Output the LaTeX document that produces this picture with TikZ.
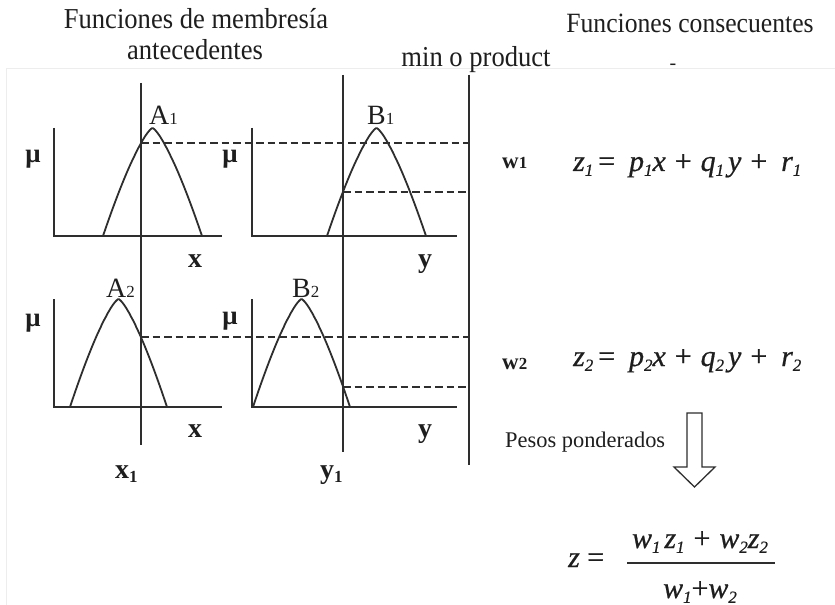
\documentclass[tikz,border=0pt]{standalone}
\usepackage{fontspec}
\setmainfont{Liberation Serif}
\newfontfamily\condfont[FakeStretch=0.92]{Liberation Serif}
\newfontfamily\eqfont[FakeBold=0.6]{Liberation Serif}
\usetikzlibrary{intersections}
\definecolor{ink}{HTML}{2E2E2E}
\definecolor{txt}{HTML}{1E1E1E}
\definecolor{faintline}{HTML}{EDEDED}
\newcommand\isub[1]{\raisebox{-0.35ex}{\fontsize{17}{17}\selectfont #1}}
\newcommand\lsub[1]{{\fontsize{17}{17}\selectfont #1}}
\newcommand\pl{\hspace{9bp}{\upshape+}\hspace{9bp}}
\begin{document}
\begin{tikzpicture}[x=1bp,y=-1bp,
  axis/.style={draw=ink, line width=1.9bp},
  mcurve/.style={draw=ink, line width=1.8bp},
  vline/.style={draw=ink, line width=1.9bp},
  dashline/.style={draw=ink, line width=2bp, dash pattern=on 7.5bp off 4bp},
  title/.style={font=\condfont\fontsize{29}{29}\selectfont, text=txt, inner sep=0, anchor=base},
  lbl/.style={font=\bfseries\fontsize{27}{27}\selectfont, text=txt, inner sep=0, anchor=base},
  sublbl/.style={font=\fontsize{28}{28}\selectfont, text=txt, inner sep=0, anchor=base west},
  bl/.style={font=\bfseries\fontsize{28}{28}\selectfont, text=txt, inner sep=0, anchor=base},
  wl/.style={font=\bfseries\fontsize{23}{23}\selectfont, text=txt, inner sep=0, anchor=base west},
  eq/.style={font=\eqfont\itshape\fontsize{30}{30}\selectfont, text=txt, inner sep=0, anchor=base west},
  eqc/.style={font=\eqfont\itshape\fontsize{30}{30}\selectfont, text=txt, inner sep=0, anchor=base},
]
\useasboundingbox (0,0) rectangle (835,605);
\fill[white] (0,0) rectangle (835,605);
% faint frame of the embedded figure
\coordinate (fb) at (6,605);
\coordinate (fc) at (6,69);
\coordinate (fr) at (835,69);
\draw[faintline, line width=1bp] (fb) -- (fc) -- (fr);

% titles
\node[title] (t1) at (196,29) {Funciones de membresía};
\node[title] (t2) at (195,60) {antecedentes};
\node[title] (t3) at (476,67) {min o product};
\node[title, font=\condfont\fontsize{28}{28}\selectfont] (t4) at (690,33) {Funciones consecuentes};
\node[title, font=\fontsize{20}{20}\selectfont] (dash) at (673,70) {-};

% axes
\coordinate (tA1) at (54,128); \coordinate (oA1) at (54,236); \coordinate (eA1) at (222,236);
\coordinate (tB1) at (252,128); \coordinate (oB1) at (252,236); \coordinate (eB1) at (457,236);
\coordinate (tA2) at (54,299); \coordinate (oA2) at (54,407); \coordinate (eA2) at (222,407);
\coordinate (tB2) at (252,299); \coordinate (oB2) at (252,407); \coordinate (eB2) at (457,407);
\draw[axis] (tA1) -- (oA1) -- (eA1);
\draw[axis] (tB1) -- (oB1) -- (eB1);
\draw[axis] (tA2) -- (oA2) -- (eA2);
\draw[axis] (tB2) -- (oB2) -- (eB2);

% membership curves
\draw[mcurve, name path=cA1] plot[domain=103:202, samples=90, smooth]
  (\x, {236-108*(1-((\x-152.5)*(\x-152.5)/2450.25+0.00001)^0.675)});
\draw[mcurve, name path=cB1] plot[domain=327:426, samples=90, smooth]
  (\x, {236-108*(1-((\x-376.5)*(\x-376.5)/2450.25+0.00001)^0.675)});
\draw[mcurve, name path=cA2] plot[domain=70:167, samples=90, smooth]
  (\x, {407-108*(1-((\x-118.5)*(\x-118.5)/2352.25+0.00001)^0.675)});
\draw[mcurve, name path=cB2] plot[domain=253:350, samples=90, smooth]
  (\x, {407-108*(1-((\x-301.5)*(\x-301.5)/2352.25+0.00001)^0.675)});

% vertical input lines
\coordinate (x1t) at (141,83);  \coordinate (x1b) at (141,445);
\coordinate (y1t) at (343,75);  \coordinate (y1b) at (343,452);
\coordinate (rt) at (469,75);   \coordinate (rb) at (469,465);
\draw[vline, name path=vx] (x1t) -- (x1b);
\draw[vline, name path=vy] (y1t) -- (y1b);
\draw[vline] (rt) -- (rb);

% dashed membership degrees
\path[name intersections={of=cA1 and vx, by=iA1}];
\path[name intersections={of=cB1 and vy, by=iB1}];
\path[name intersections={of=cA2 and vx, by=iA2}];
\path[name intersections={of=cB2 and vy, by=iB2}];
\draw[dashline] (iA1) -- (iA1 -| rt);
\draw[dashline] (iB1) -- (iB1 -| rt);
\draw[dashline] (iA2) -- (iA2 -| rt);
\draw[dashline] (iB2) -- (iB2 -| rt);

% labels
\node[lbl] (mu1) at (33,163) {μ};
\node[lbl] (mu2) at (230,163) {μ};
\node[lbl] (mu3) at (33,326) {μ};
\node[lbl] (mu4) at (230,324) {μ};
\node[sublbl] (A1) at (149,125) {A\lsub{1}};
\node[sublbl] (B1) at (367,125) {B\lsub{1}};
\node[sublbl] (A2) at (106,297) {A\lsub{2}};
\node[sublbl] (B2) at (292,297) {B\lsub{2}};
\node[bl] (xa) at (195,267) {x};
\node[bl] (ya) at (425,267) {y};
\node[bl] (xb) at (195,437) {x};
\node[bl] (yb) at (425,437) {y};
\node[bl, anchor=base west] (x1) at (115,478) {x\isub{1}};
\node[bl, anchor=base west] (y1) at (320,478) {y\isub{1}};

% consequent functions
\node[wl] (w1) at (502,169) {w\lsub{1}};
\node[wl] (w2) at (502,369) {w\lsub{2}};
\node[eq] (z1) at (573,171) {z\isub{1}\,{\upshape=}\hspace{14bp}p\isub{1}x\pl q\isub{1}\hspace{4bp}y\pl\hspace{5bp}r\isub{1}};
\node[eq] (z2) at (573,366) {z\isub{2}\,{\upshape=}\hspace{14bp}p\isub{2}x\pl q\isub{2}\hspace{4bp}y\pl\hspace{5bp}r\isub{2}};

% weighted average
\node[title, font=\fontsize{22.5}{22.5}\selectfont, anchor=base west] (pp) at (505,447) {Pesos ponderados};
\draw[ink, line width=1.3bp] (687,413) -- (702,413) -- (702,467) -- (715,467) -- (694.5,487) -- (674,467) -- (687,467) -- cycle;

\node[eq] (zz) at (568,567) {z {\upshape=}};
\node[eqc] (num) at (700,548) {w\isub{1}\hspace{4bp}z\isub{1}\pl w\isub{2}z\isub{2}};
\node[eqc] (den) at (700,598) {w\isub{1}{\upshape+}w\isub{2}};
\coordinate (barL) at (627,563);
\coordinate (barR) at (775,563);
\draw[ink, line width=1.3bp] (barL) -- (barR);
\end{tikzpicture}
\end{document}
